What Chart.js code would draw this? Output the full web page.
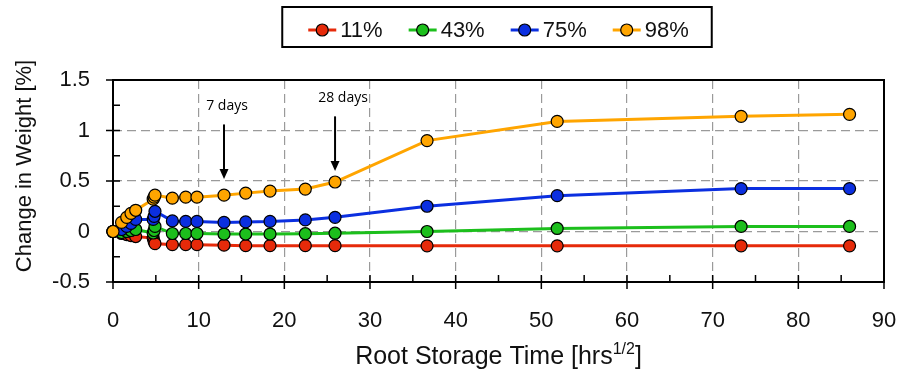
<!DOCTYPE html>
<html>
<head>
<meta charset="utf-8">
<script src="https://cdn.jsdelivr.net/npm/chart.js@4.4.1/dist/chart.umd.min.js"></script>
<style>
    html, body { margin: 0; padding: 0; background: #fff; }
</style>
</head>
<body>
<canvas id="weightChart" width="903" height="376"></canvas>
<script>
// Storage time in sqrt(hours), shared by every humidity series
const rootTime = [0, 1.0, 1.6, 2.1, 2.65, 4.69, 4.8, 4.9, 6.93, 8.49, 9.8, 12.96, 15.49, 18.33, 22.45, 25.92, 36.66, 51.85, 73.32, 85.98];

// Change in weight [%] for each relative humidity
const rh11 = [0, -0.02, -0.03, -0.04, -0.05, -0.065, -0.10, -0.12, -0.13, -0.13, -0.13, -0.135, -0.14, -0.14, -0.14, -0.14, -0.142, -0.142, -0.142, -0.142];
const rh43 = [0, -0.01, 0.0, 0.01, 0.02, -0.015, 0.01, 0.05, -0.02, -0.02, -0.02, -0.025, -0.025, -0.025, -0.022, -0.017, 0.0, 0.03, 0.05, 0.05];
const rh75 = [0, 0.02, 0.05, 0.08, 0.12, 0.12, 0.15, 0.20, 0.105, 0.10, 0.10, 0.09, 0.095, 0.10, 0.115, 0.14, 0.25, 0.355, 0.425, 0.425];
const rh98 = [0, 0.09, 0.14, 0.18, 0.21, 0.32, 0.34, 0.36, 0.33, 0.34, 0.34, 0.36, 0.38, 0.40, 0.42, 0.49, 0.90, 1.09, 1.14, 1.16];

const seriesLabels = ['11%', '43%', '75%', '98%'];
const seriesColors = ['#e62a0a', '#1cbf1c', '#0b2fe0', '#ffa500'];

// arrow call-outs
const markerLabels = ['7 days', '28 days'];
const markerTimes = [12.96, 25.92];

const FONT = '"Liberation Sans", Arial, sans-serif';

// arrow geometry in data units (top of shaft, tip)
const markerStyle = { top: [1.06, 1.14], tip: [0.52, 0.60] };

function toXY(ys) {
    return rootTime.map((t, i) => ({ x: t, y: ys[i] }));
}

function series(idx, ys) {
    return {
        label: seriesLabels[idx],
        data: toXY(ys),
        borderColor: seriesColors[idx],
        backgroundColor: seriesColors[idx],
        pointBackgroundColor: seriesColors[idx],
        pointBorderColor: '#000',
        pointBorderWidth: 1.2,
        pointRadius: 6,
        borderWidth: 3,
        tension: 0,
        clip: false,
        order: 4 - idx
    };
}

// plot frame plus crossing major / inside minor ticks
const framePlugin = {
    id: 'frame',
    beforeDatasetsDraw(chart) {
        const { ctx, chartArea: a, scales: { x, y } } = chart;
        ctx.save();
        ctx.strokeStyle = '#000';
        ctx.lineWidth = 2;
        ctx.strokeRect(a.left, a.top, a.right - a.left, a.bottom - a.top);
        ctx.lineWidth = 1.5;
        ctx.beginPath();
        for (let v = 0; v <= 90; v += 5) {
            const px = x.getPixelForValue(v);
            const major = v % 10 === 0;
            ctx.moveTo(px, a.bottom + (major ? 7 : 0));
            ctx.lineTo(px, a.bottom - 7);
        }
        for (let i = 0; i <= 8; i++) {
            const v = -0.5 + i * 0.25;
            const py = y.getPixelForValue(v);
            const major = i % 2 === 0;
            ctx.moveTo(a.left - (major ? 7 : 0), py);
            ctx.lineTo(a.left + 7, py);
        }
        ctx.stroke();
        ctx.restore();
    }
};

const markerPlugin = {
    id: 'markers',
    afterDatasetsDraw(chart) {
        const { ctx, scales: { x, y } } = chart;
        ctx.save();
        ctx.fillStyle = '#000';
        ctx.strokeStyle = '#000';
        ctx.lineWidth = 2;
        ctx.font = '14px "Open Sans", sans-serif';
        ctx.textAlign = 'center';
        ctx.textBaseline = 'middle';
        markerTimes.forEach((t, i) => {
            const px = x.getPixelForValue(t);
            const top = y.getPixelForValue(markerStyle.top[i]);
            const tip = y.getPixelForValue(markerStyle.tip[i]);
            ctx.beginPath();
            ctx.moveTo(px, top);
            ctx.lineTo(px, tip - 8);
            ctx.stroke();
            ctx.beginPath();
            ctx.moveTo(px - 4.5, tip - 10);
            ctx.lineTo(px + 4.5, tip - 10);
            ctx.lineTo(px, tip);
            ctx.closePath();
            ctx.fill();
            ctx.fillText(markerLabels[i], px + 3 + i * 5, top - 18);
        });
        ctx.restore();
    }
};

// boxed legend, axis titles (x title has a superscript)
const textPlugin = {
    id: 'texts',
    afterDraw(chart) {
        const { ctx, chartArea: a } = chart;
        const sets = chart.data.datasets;
        ctx.save();

        ctx.font = '22px ' + FONT;
        ctx.textBaseline = 'middle';
        ctx.textAlign = 'left';
        const markW = 28, gapText = 4, gapItem = 26;
        const widths = sets.map(d => markW + gapText + ctx.measureText(d.label).width);
        const total = widths.reduce((s, w) => s + w, 0) + gapItem * (sets.length - 1);
        let cx = (a.left + a.right) / 2 - total / 2;
        const ly = 30;
        ctx.strokeStyle = '#000';
        ctx.lineWidth = 2;
        ctx.strokeRect(cx - 26, 7, total + 49, 40);
        sets.forEach((d, i) => {
            ctx.strokeStyle = d.borderColor;
            ctx.lineWidth = 3;
            ctx.beginPath();
            ctx.moveTo(cx, ly);
            ctx.lineTo(cx + markW, ly);
            ctx.stroke();
            ctx.beginPath();
            ctx.arc(cx + markW / 2, ly, 6, 0, Math.PI * 2);
            ctx.fillStyle = d.pointBackgroundColor;
            ctx.fill();
            ctx.lineWidth = 1.2;
            ctx.strokeStyle = '#000';
            ctx.stroke();
            ctx.fillStyle = '#111';
            ctx.fillText(d.label, cx + markW + gapText, ly + 1);
            cx += widths[i] + gapItem;
        });

        // y title
        ctx.save();
        ctx.translate(25, 166);
        ctx.rotate(-Math.PI / 2);
        ctx.textAlign = 'center';
        ctx.fillStyle = '#111';
        ctx.font = '22px ' + FONT;
        ctx.fillText('Change in Weight [%]', 0, 0);
        ctx.restore();

        // x title
        const main = 'Root Storage Time [hrs', sup = '1/2', end = ']';
        ctx.textBaseline = 'alphabetic';
        ctx.font = '25px ' + FONT;
        const w1 = ctx.measureText(main).width;
        const w3 = ctx.measureText(end).width;
        ctx.font = '16px ' + FONT;
        const w2 = ctx.measureText(sup).width;
        let sx = (a.left + a.right) / 2 - (w1 + w2 + w3) / 2;
        const base = 364;
        ctx.fillStyle = '#111';
        ctx.font = '25px ' + FONT;
        ctx.fillText(main, sx, base);
        ctx.font = '16px ' + FONT;
        ctx.fillText(sup, sx + w1, base - 10);
        ctx.font = '25px ' + FONT;
        ctx.fillText(end, sx + w1 + w2, base);
        ctx.restore();
    }
};

new Chart(document.getElementById('weightChart'), {
    type: 'line',
    data: {
        datasets: [
            series(0, rh11),
            series(1, rh43),
            series(2, rh75),
            series(3, rh98)
        ]
    },
    options: {
        responsive: false,
        animation: false,
        devicePixelRatio: 1,
        layout: { padding: { top: 80, right: 19, left: 0, bottom: 0 } },
        plugins: {
            legend: { display: false },
            tooltip: { enabled: false }
        },
        scales: {
            x: {
                type: 'linear',
                min: 0,
                max: 90,
                afterFit: s => {
                    s.height = 94;
                    s.paddingLeft = 0;
                    s.paddingRight = 0;
                },
                ticks: {
                    stepSize: 10,
                    padding: 26,
                    color: '#111',
                    font: { family: FONT, size: 22 }
                },
                grid: {
                    color: '#9a9a9a',
                    lineWidth: 1.2,
                    drawTicks: false
                },
                border: { display: false, dash: [9, 5] }
            },
            y: {
                min: -0.5,
                max: 1.5,
                afterFit: s => {
                    s.width = 113;
                    s.paddingTop = 0;
                    s.paddingBottom = 0;
                },
                ticks: {
                    stepSize: 0.5,
                    padding: 23,
                    color: '#111',
                    font: { family: FONT, size: 22 },
                    callback: v => String(Math.round(v * 100) / 100)
                },
                grid: {
                    color: '#9a9a9a',
                    lineWidth: 1.2,
                    drawTicks: false
                },
                border: { display: false, dash: [9, 5] }
            }
        }
    },
    plugins: [framePlugin, markerPlugin, textPlugin]
});
</script>
</body>
</html>
